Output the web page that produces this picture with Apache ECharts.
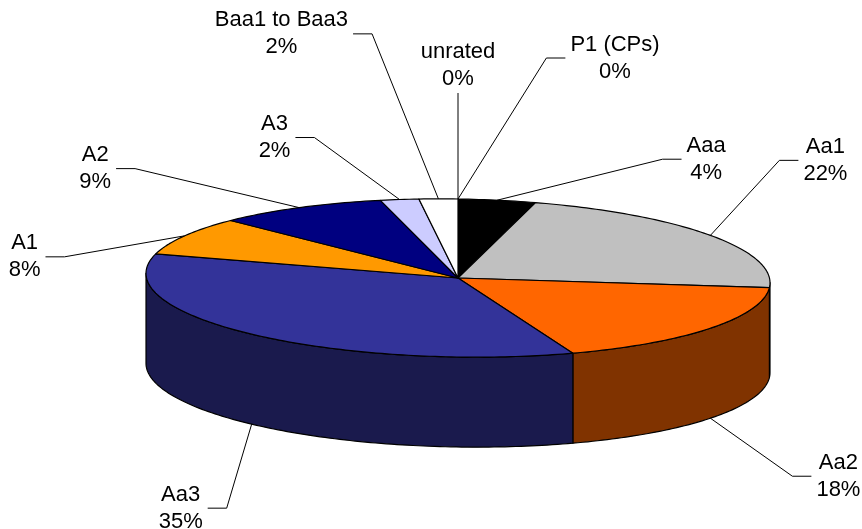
<!DOCTYPE html>
<html>
<head>
<meta charset="utf-8">
<title>Rating distribution</title>
<script src="https://cdn.jsdelivr.net/npm/echarts@6/dist/echarts.min.js"></script>
<style>
  html, body { margin: 0; padding: 0; background: #fff; }
  #chart { width: 862px; height: 529px; }
</style>
</head>
<body>
<div id="chart"></div>
<script>
  var categories = ['Aaa', 'Aa1', 'Aa2', 'Aa3', 'A1', 'A2', 'A3', 'Baa1 to Baa3', 'unrated', 'P1 (CPs)']
  var values = [4, 22, 18, 35, 8, 9, 2, 2, 0, 0]
  var colors = ['#000000', '#C0C0C0', '#FF6600', '#333399', '#FF9900', '#000080', '#CCCCFF', '#FFFFFF', '#FFFFFF', '#FFFFFF']

  // where each label block sits, relative to the point its leader touches
  var labelOffsets = [[209, -41], [115, -75], [128, 58], [-71, 84], [-160, 21], [-204, -39], [-125, -62], [-157, -165], [0, -134], [157, -141]]

  var pie = { cx: 458, cy: 278, rx: 312, ry: 79, depth: 90, shear: 0.015 }
  var font = '22px "Liberation Sans", Arial, sans-serif'
  var lineH = 27

  var total = values.reduce(function (s, v) { return s + v }, 0)
  var starts = []
  var ends = []
  var acc = 0
  values.forEach(function (v) {
    starts.push(acc / total * Math.PI * 2)
    acc += v
    ends.push(acc / total * Math.PI * 2)
  })

  // t = 0 at 12 o'clock, going clockwise
  function project (t, drop) {
    var x = pie.cx + pie.rx * Math.sin(t)
    var y = pie.cy - pie.ry * Math.cos(t) + (x - pie.cx) * pie.shear + (drop || 0)
    return [x, y]
  }
  function arc (a, b, drop) {
    var n = Math.max(2, Math.ceil((b - a) / (Math.PI / 180)))
    var pts = []
    for (var k = 0; k <= n; k++) {
      pts.push(project(a + (b - a) * k / n, drop))
    }
    return pts
  }
  // side walls are the face colour at half brightness
  function shade (c) {
    var rgba = echarts.color.parse(c)
    return 'rgb(' + Math.round(rgba[0] * 0.5) + ',' + Math.round(rgba[1] * 0.5) + ',' + Math.round(rgba[2] * 0.5) + ')'
  }

  var measureCtx = document.createElement('canvas').getContext('2d')
  measureCtx.font = font
  function blockWidth (lines) {
    return Math.max.apply(null, lines.map(function (l) { return measureCtx.measureText(l).width }))
  }

  function renderWall (params, api) {
    var i = api.value(0)
    var a = Math.max(starts[i], Math.PI / 2)
    var b = Math.min(ends[i], Math.PI * 1.5)
    if (!(b > a)) return { type: 'group', children: [] }
    var pts = arc(a, b, 0).concat(arc(a, b, pie.depth).reverse())
    return {
      type: 'polygon',
      shape: { points: pts },
      style: { fill: shade(colors[i]), stroke: '#000', lineWidth: 1.2, lineJoin: 'round' }
    }
  }

  function renderTop (params, api) {
    var i = api.value(0)
    if (!(ends[i] > starts[i])) return { type: 'group', children: [] }
    var pts = [[pie.cx, pie.cy]].concat(arc(starts[i], ends[i], 0))
    return {
      type: 'polygon',
      shape: { points: pts },
      style: { fill: colors[i], stroke: '#000', lineWidth: 1.2, lineJoin: 'round' }
    }
  }

  function renderLabel (params, api) {
    var i = api.value(0)
    var mid = (starts[i] + ends[i]) / 2
    var front = Math.cos(mid) < 0
    var anchor = project(mid, front ? pie.depth : 0)
    var lx = anchor[0] + labelOffsets[i][0]
    var ly = anchor[1] + labelOffsets[i][1]
    var pct = Math.round(values[i] / total * 100) + '%'
    var lines = [categories[i], pct]
    var half = blockWidth(lines) / 2
    var leader
    if (Math.abs(lx - anchor[0]) < 10) {
      leader = [[lx, ly + lineH + 1], anchor]
    } else if (lx < anchor[0]) {
      var e = lx + half + 5
      leader = [[e, ly], [e + 19, ly], anchor]
    } else {
      var s = lx - half - 5
      leader = [[s, ly], [s - 19, ly], anchor]
    }
    return {
      type: 'group',
      children: [
        {
          type: 'polyline',
          shape: { points: leader },
          style: { stroke: '#000', lineWidth: 1, fill: null }
        },
        {
          type: 'text',
          x: lx,
          y: ly,
          style: {
            text: lines.join('\n'),
            font: font,
            fill: '#000',
            align: 'center',
            verticalAlign: 'middle',
            lineHeight: lineH
          }
        }
      ]
    }
  }

  var seriesData = values.map(function (v, i) { return [i, v] })

  var option = {
    animation: false,
    backgroundColor: '#fff',
    series: [
      { type: 'custom', coordinateSystem: 'none', silent: true, z: 1, renderItem: renderWall, data: seriesData },
      { type: 'custom', coordinateSystem: 'none', silent: true, z: 2, renderItem: renderTop, data: seriesData },
      { type: 'custom', coordinateSystem: 'none', silent: true, z: 3, renderItem: renderLabel, data: seriesData }
    ]
  }

  var chart = echarts.init(document.getElementById('chart'))
  chart.setOption(option)
  window.addEventListener('resize', function () {
    chart.resize()
  })
</script>
</body>
</html>
